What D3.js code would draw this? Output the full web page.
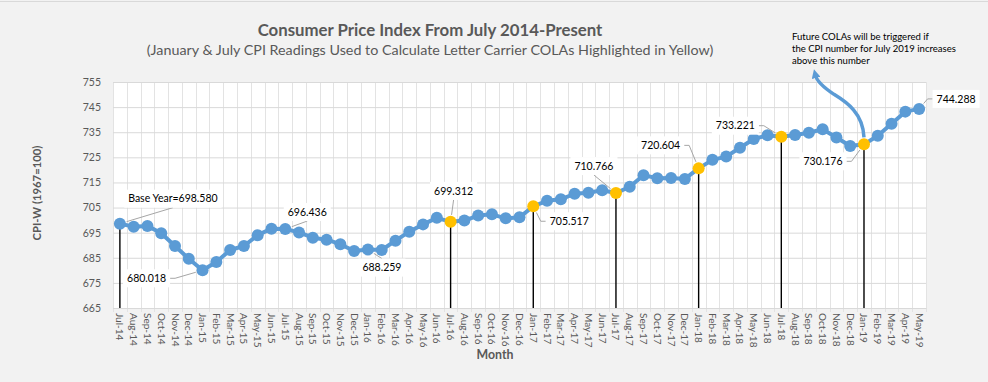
<!DOCTYPE html>
<html><head><meta charset="utf-8">
<script src="https://cdn.jsdelivr.net/npm/d3@7"></script>
<style>
html,body{margin:0;padding:0;background:#f2f2f2;overflow:hidden;}
svg{display:block;}
text{font-family:Lato,"Open Sans",sans-serif;}
</style></head><body>
<svg id="chart" width="988" height="382"></svg>
<script>
// ---------------- data ----------------
const months = ["Jul-14","Aug-14","Sep-14","Oct-14","Nov-14","Dec-14",
  "Jan-15","Feb-15","Mar-15","Apr-15","May-15","Jun-15","Jul-15","Aug-15","Sep-15","Oct-15","Nov-15","Dec-15",
  "Jan-16","Feb-16","Mar-16","Apr-16","May-16","Jun-16","Jul-16","Aug-16","Sep-16","Oct-16","Nov-16","Dec-16",
  "Jan-17","Feb-17","Mar-17","Apr-17","May-17","Jun-17","Jul-17","Aug-17","Sep-17","Oct-17","Nov-17","Dec-17",
  "Jan-18","Feb-18","Mar-18","Apr-18","May-18","Jun-18","Jul-18","Aug-18","Sep-18","Oct-18","Nov-18","Dec-18",
  "Jan-19","Feb-19","Mar-19","Apr-19","May-19"];
const cpi = [698.580,697.4,697.7,694.8,689.7,684.6,
  680.018,683.3,688.1,689.7,694.0,696.6,696.436,695.1,693.0,692.2,690.4,687.7,
  688.259,688.1,691.8,695.4,698.3,700.9,699.312,699.8,701.8,702.3,700.7,701.1,
  705.517,707.7,708.3,710.5,710.9,711.9,710.766,713.3,717.9,716.7,716.8,716.4,
  720.604,724.0,725.3,728.8,732.3,733.8,733.221,733.9,734.8,736.2,732.9,729.5,
  730.176,733.6,738.4,743.2,744.288];
const highlightedMonths = ["Jul-16","Jan-17","Jul-17","Jan-18","Jul-18","Jan-19"];
const dropLineMonths = ["Jul-14","Jul-16","Jan-17","Jul-17","Jan-18","Jul-18","Jan-19"];
const yTicks = [665,675,685,695,705,715,725,735,745,755];
const calloutMonths = ["Jul-14","Jan-15","Jul-15","Jan-16","Jul-16","Jan-17","Jul-17","Jan-18","Jul-18","Jan-19","May-19"];
const calloutTexts = ["Base Year=698.580","680.018","696.436","688.259","699.312","705.517","710.766","720.604","733.221","730.176","744.288"];
const titleText = "Consumer Price Index From July 2014-Present";
const subtitleText = "(January & July CPI Readings Used to Calculate Letter Carrier COLAs Highlighted in Yellow)";
const yAxisTitle = "CPI-W (1967=100)";
const xAxisTitle = "Month";
const noteLines = ["Future COLAs will be triggered if","the CPI number for July 2019 increases","above this number"];

// ---------------- layout ----------------
const calloutLayout = [
  {dx:53, dy:-25, attach:"bottom"},
  {dx:-56, dy:8, attach:"side"},
  {dx:22, dy:-17, attach:"bottom"},
  {dx:14, dy:18, attach:"top"},
  {dx:3, dy:-31, attach:"bottom"},
  {dx:36, dy:15, attach:"side"},
  {dx:-22, dy:-27, attach:"bottom"},
  {dx:-38, dy:-23, attach:"side"},
  {dx:-46, dy:-11, attach:"side"},
  {dx:-41, dy:17, attach:"side"},
  {dx:37, dy:-10, attach:"side"}
];
const plot = {left:113, right:926, top:82, bottom:308};
const blue = "#5B9BD5", gold = "#FFC000", grey = "#595959";

const svg = d3.select("#chart");
const x = d3.scaleBand().domain(months).range([plot.left, plot.right]).paddingInner(0).paddingOuter(0);
const cx = m => x(m) + x.bandwidth()/2;
const y = d3.scaleLinear().domain([665,755]).range([plot.bottom, plot.top]);
const valueOf = m => cpi[months.indexOf(m)];

function fit(sel, w){
  const fs = parseFloat(sel.attr("font-size"));
  const l = sel.node().getComputedTextLength();
  if (l > 0) sel.attr("font-size", fs * w / l);
  return sel;
}

// top border
svg.append("line").attr("x1",0).attr("x2",988).attr("y1",1.5).attr("y2",1.5)
  .attr("stroke","#d9d9d9").attr("stroke-width",1);

// plot background
svg.append("rect").attr("x",plot.left).attr("y",plot.top)
  .attr("width",plot.right-plot.left).attr("height",plot.bottom-plot.top).attr("fill","#fff");

// vertical gridlines at band boundaries
const bounds = months.map(m => x(m)).concat([plot.right]);
svg.append("g").selectAll("line").data(bounds).join("line")
  .attr("x1",d=>Math.round(d)+0.5).attr("x2",d=>Math.round(d)+0.5)
  .attr("y1",plot.top).attr("y2",plot.bottom+4)
  .attr("stroke","#e3e3e3").attr("stroke-width",1);

// horizontal gridlines
const yAxis = d3.axisLeft(y).tickValues(yTicks).tickSize(-(plot.right-plot.left)).tickPadding(12);
const gy = svg.append("g").attr("transform",`translate(${plot.left},0)`).call(yAxis);
gy.select(".domain").remove();
gy.selectAll(".tick line").attr("stroke","#d9d9d9");
gy.selectAll(".tick text").attr("fill",grey).attr("font-size",10.5).attr("font-family","Lato,sans-serif");

// x axis
const xAxis = d3.axisBottom(x).tickSize(0);
const gx = svg.append("g").attr("transform",`translate(0,${plot.bottom})`).call(xAxis);
gx.select(".domain").attr("stroke","#d9d9d9");
gx.selectAll(".tick text")
  .attr("fill",grey).attr("font-size",10).attr("font-family","Lato,sans-serif")
  .attr("text-anchor","start").attr("transform","rotate(90)")
  .attr("x",5).attr("y",0).attr("dy","0.35em");

// drop lines
svg.append("g").selectAll("line").data(dropLineMonths).join("line")
  .attr("x1",d=>cx(d)).attr("x2",d=>cx(d))
  .attr("y1",d=>y(valueOf(d))).attr("y2",plot.bottom)
  .attr("stroke","#000").attr("stroke-width",1.4);

// series line
const line = d3.line().x((d,i)=>cx(months[i])).y(d=>y(d));
svg.append("path").datum(cpi).attr("d",line)
  .attr("fill","none").attr("stroke",blue).attr("stroke-width",4).attr("stroke-linejoin","round");

// markers
svg.append("g").selectAll("circle").data(cpi).join("circle")
  .attr("cx",(d,i)=>cx(months[i])).attr("cy",d=>y(d)).attr("r",6)
  .attr("fill",(d,i)=>highlightedMonths.includes(months[i]) ? gold : blue);

// callouts
const gl = svg.append("g");
calloutMonths.forEach((m,i)=>{
  const L = calloutLayout[i];
  const px = cx(m), py = y(valueOf(m));
  const tx = px + L.dx, ty = py + L.dy;
  const g = gl.append("g");
  const rect = g.append("rect").attr("fill","#fff");
  const t = g.append("text").attr("x",tx).attr("y",ty).attr("dy","0.35em")
    .attr("text-anchor","middle").attr("font-size",10.5).attr("fill","#000").text(calloutTexts[i]);
  const bb = t.node().getBBox();
  const bx = bb.x-4, by = ty-9, bw = bb.width+8, bh = 18;
  rect.attr("x",bx).attr("y",by).attr("width",bw).attr("height",bh);
  let pts;
  if (L.attach === "side") {
    const ax = L.dx > 0 ? bx : bx+bw;
    const hx = L.dx > 0 ? ax-5 : ax+5;
    pts = [[ax,ty],[hx,ty]];
  } else if (L.attach === "bottom") {
    pts = [[tx, by+bh]];
  } else {
    pts = [[tx, by]];
  }
  const last = pts[pts.length-1];
  const ang = Math.atan2(last[1]-py, last[0]-px);
  pts.push([px + Math.cos(ang)*7, py + Math.sin(ang)*7]);
  gl.insert("polyline", ":first-child").attr("points", pts.map(p=>p.join(",")).join(" "))
    .attr("fill","none").attr("stroke","#a6a6a6").attr("stroke-width",1);
});

// arrow annotation
const defs = svg.append("defs");
defs.append("marker").attr("id","ah").attr("viewBox","0 0 10 10")
  .attr("refX",3).attr("refY",5).attr("markerWidth",9).attr("markerHeight",9)
  .attr("markerUnits","userSpaceOnUse").attr("orient","auto")
  .append("path").attr("d","M0,0 L10,5 L0,10 z").attr("fill",blue);
const sx = cx("Jan-19"), sy = y(valueOf("Jan-19")) - 7;
svg.append("path")
  .attr("d",`M${sx},${sy} C${sx-1},${sy-24} ${sx-17},${sy-35} ${sx-30},${sy-43} C${sx-42},${sy-51} ${sx-47},${sy-56} ${sx-48.5},${sy-62}`)
  .attr("fill","none").attr("stroke",blue).attr("stroke-width",3.5).attr("marker-end","url(#ah)");

// note text
const nt = svg.append("g");
const noteBase = [39.5, 52, 64.3];
let noteFs = 9;
noteLines.forEach((s,i)=>{
  const t = nt.append("text").attr("x",792).attr("y",noteBase[i]).attr("font-size",9).attr("fill","#000").text(s);
  if (i===1){ fit(t,164); noteFs = parseFloat(t.attr("font-size")); }
});
nt.selectAll("text").attr("font-size",noteFs);

// titles
fit(svg.append("text").attr("x",430).attr("y",36).attr("text-anchor","middle")
  .attr("font-size",16).attr("font-weight","bold").attr("fill",grey).text(titleText),345);
fit(svg.append("text").attr("x",430).attr("y",55).attr("text-anchor","middle")
  .attr("font-size",14).attr("fill",grey).text(subtitleText),567);
fit(svg.append("text").attr("transform","translate(41,193) rotate(-90)").attr("text-anchor","middle")
  .attr("font-size",12).attr("font-weight","bold").attr("fill",grey).text(yAxisTitle),95);
fit(svg.append("text").attr("x",495).attr("y",359).attr("text-anchor","middle")
  .attr("font-size",12).attr("font-weight","bold").attr("fill",grey).text(xAxisTitle),37);
</script>
</body></html>
